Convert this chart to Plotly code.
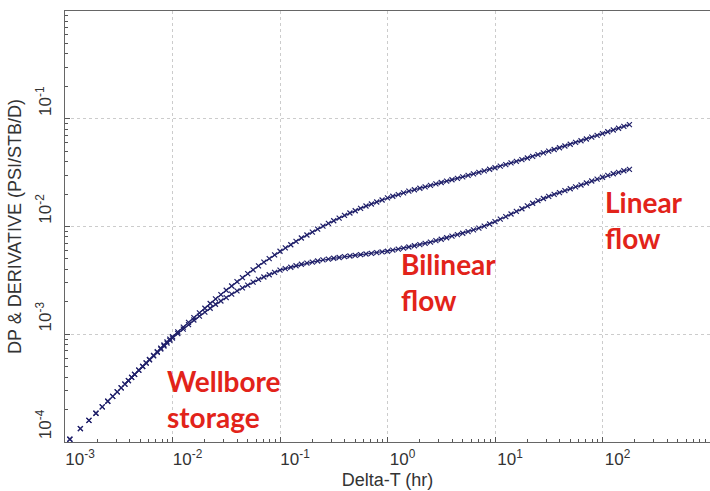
import math
import plotly.graph_objects as go

# Elapsed time since shut-in (hr)
delta_t = [
    0.00111, 0.00139, 0.00167, 0.00194, 0.00222, 0.0025, 0.00278, 0.00306,
    0.00333, 0.00361, 0.00389, 0.00417, 0.00444, 0.00486, 0.00528, 0.00569,
    0.00611, 0.00667, 0.00722, 0.00778, 0.00833, 0.00889, 0.00944,
    0.0100, 0.0112, 0.0126, 0.0141, 0.0158, 0.0178, 0.0200, 0.0224, 0.0251, 0.0282,
    0.0316, 0.0355, 0.0398, 0.0447, 0.0501, 0.0562, 0.0631, 0.0708, 0.0794, 0.0891,
    0.100, 0.112, 0.126, 0.141, 0.158, 0.178, 0.200, 0.224, 0.251, 0.282,
    0.316, 0.355, 0.398, 0.447, 0.501, 0.562, 0.631, 0.708, 0.794, 0.891,
    1.00, 1.12, 1.26, 1.41, 1.58, 1.78, 2.00, 2.24, 2.51, 2.82,
    3.16, 3.55, 3.98, 4.47, 5.01, 5.62, 6.31, 7.08, 7.94, 8.91,
    10.0, 11.2, 12.6, 14.1, 15.8, 17.8, 20.0, 22.4, 25.1, 28.2,
    31.6, 35.5, 39.8, 44.7, 50.1, 56.2, 63.1, 70.8, 79.4, 89.1,
    100.0, 112.0, 126.0, 141.0, 158.0, 178.0,
]

# Pressure change DP (psi/STB/D)
dp = [
    1.06e-4, 1.33e-4, 1.59e-4, 1.85e-4, 2.12e-4, 2.39e-4, 2.65e-4, 2.92e-4,
    3.18e-4, 3.45e-4, 3.71e-4, 3.98e-4, 4.24e-4, 4.64e-4, 5.04e-4, 5.43e-4,
    5.83e-4, 6.37e-4, 6.89e-4, 7.43e-4, 7.95e-4, 8.49e-4, 9.01e-4,
    9.51e-4, 1.052e-3, 1.164e-3, 1.291e-3, 1.429e-3, 1.578e-3, 1.742e-3, 1.928e-3, 2.128e-3, 2.333e-3,
    2.559e-3, 2.805e-3, 3.076e-3, 3.350e-3, 3.648e-3, 3.963e-3, 4.315e-3, 4.667e-3, 5.035e-3, 5.445e-3,
    5.888e-3, 6.324e-3, 6.776e-3, 7.278e-3, 7.816e-3, 8.337e-3, 8.872e-3, 9.462e-3, 1.009e-2, 1.069e-2,
    1.130e-2, 1.197e-2, 1.268e-2, 1.334e-2, 1.400e-2, 1.472e-2, 1.549e-2, 1.618e-2, 1.687e-2, 1.762e-2,
    1.841e-2, 1.910e-2, 1.977e-2, 2.051e-2, 2.128e-2, 2.193e-2, 2.265e-2, 2.333e-2, 2.410e-2, 2.483e-2,
    2.559e-2, 2.636e-2, 2.716e-2, 2.799e-2, 2.891e-2, 2.979e-2, 3.076e-2, 3.177e-2, 3.281e-2, 3.396e-2,
    3.508e-2, 3.631e-2, 3.758e-2, 3.890e-2, 4.027e-2, 4.169e-2, 4.325e-2, 4.477e-2, 4.645e-2, 4.819e-2,
    5.000e-2, 5.188e-2, 5.383e-2, 5.585e-2, 5.794e-2, 6.026e-2, 6.252e-2, 6.486e-2, 6.745e-2, 6.998e-2,
    7.278e-2, 7.568e-2, 7.870e-2, 8.166e-2, 8.492e-2, 8.831e-2,
]

# Pressure derivative (psi/STB/D)
derivative = [
    1.06e-4, 1.33e-4, 1.59e-4, 1.85e-4, 2.12e-4, 2.39e-4, 2.65e-4, 2.92e-4,
    3.18e-4, 3.45e-4, 3.71e-4, 3.98e-4, 4.24e-4, 4.64e-4, 5.02e-4, 5.39e-4,
    5.78e-4, 6.29e-4, 6.78e-4, 7.29e-4, 7.78e-4, 8.28e-4, 8.77e-4,
    9.226e-4, 1.016e-3, 1.117e-3, 1.230e-3, 1.355e-3, 1.472e-3, 1.603e-3, 1.742e-3, 1.897e-3, 2.037e-3,
    2.188e-3, 2.355e-3, 2.529e-3, 2.692e-3, 2.858e-3, 3.041e-3, 3.236e-3, 3.396e-3, 3.565e-3, 3.750e-3,
    3.936e-3, 4.064e-3, 4.188e-3, 4.325e-3, 4.467e-3, 4.571e-3, 4.677e-3, 4.786e-3, 4.898e-3, 4.977e-3,
    5.070e-3, 5.152e-3, 5.248e-3, 5.321e-3, 5.395e-3, 5.483e-3, 5.559e-3, 5.636e-3, 5.715e-3, 5.808e-3,
    5.888e-3, 6.026e-3, 6.166e-3, 6.310e-3, 6.457e-3, 6.622e-3, 6.792e-3, 6.982e-3, 7.161e-3, 7.396e-3,
    7.621e-3, 7.870e-3, 8.128e-3, 8.395e-3, 8.650e-3, 8.954e-3, 9.290e-3, 9.661e-3, 1.007e-2, 1.054e-2,
    1.109e-2, 1.169e-2, 1.236e-2, 1.306e-2, 1.380e-2, 1.462e-2, 1.556e-2, 1.644e-2, 1.738e-2, 1.820e-2,
    1.905e-2, 1.986e-2, 2.065e-2, 2.153e-2, 2.239e-2, 2.333e-2, 2.427e-2, 2.535e-2, 2.642e-2, 2.754e-2,
    2.864e-2, 2.979e-2, 3.090e-2, 3.184e-2, 3.289e-2, 3.388e-2,
]

# Decade tick positions and labels
x_ticks = [1e-3, 1e-2, 1e-1, 1e0, 1e1, 1e2]
x_tick_labels = ["10<sup>-3</sup>", "10<sup>-2</sup>", "10<sup>-1</sup>",
                 "10<sup>0</sup>", "10<sup>1</sup>", "10<sup>2</sup>"]
y_ticks = [1e-4, 1e-3, 1e-2, 1e-1]
y_tick_labels = ["10<sup>-4</sup>", "10<sup>-3</sup>", "10<sup>-2</sup>", "10<sup>-1</sup>"]

# Flow-regime labels: text, time (hr), value (psi/STB/D) of top-left corner
regime_text = ["Wellbore<br>storage", "Bilinear<br>flow", "Linear<br>flow"]
regime_t = [0.0085, 1.28, 102.0]
regime_y = [5.55e-4, 6.8e-3, 2.56e-2]

MARK = "#20206a"
RED = "#e2231a"
AXIS_FONT = "Liberation Sans, Arial, sans-serif"

fig = go.Figure()

dense_from = 9
for series in (dp, derivative):
    # thin connecting line where the sampling is dense
    fig.add_trace(go.Scatter(
        x=delta_t[dense_from:], y=series[dense_from:], mode="lines",
        line=dict(color=MARK, width=1.2), hoverinfo="skip", showlegend=False,
    ))
    fig.add_trace(go.Scatter(
        x=delta_t, y=series, mode="markers",
        marker=dict(symbol="x-thin", size=5, color=MARK,
                    line=dict(color=MARK, width=1.2)),
        showlegend=False,
    ))

for txt, tx, ty in zip(regime_text, regime_t, regime_y):
    fig.add_annotation(
        x=math.log10(tx), y=math.log10(ty),
        xref="x", yref="y", text=txt, showarrow=False,
        xanchor="left", yanchor="top", align="left",
        font=dict(family="Lato, Open Sans, sans-serif", size=28, color=RED, weight="bold"),
    )

minor_x = [m * 10.0 ** e for e in range(-3, 3) for m in range(2, 10)]
minor_y = [m * 10.0 ** e for e in range(-4, 0) for m in range(2, 10)]

fig.update_xaxes(
    type="log", range=[-3, 3],
    tickmode="array", tickvals=x_ticks, ticktext=x_tick_labels,
    ticks="inside", ticklen=5, tickcolor="#555555", tickwidth=1,
    ticklabelshift=15, ticklabelstandoff=2,
    tickfont=dict(family=AXIS_FONT, size=17, color="#333333"),
    showgrid=True, gridcolor="#cccccc", griddash="dot", gridwidth=1,
    showline=True, linecolor="#666666", linewidth=1, mirror=True,
    zeroline=False,
    minor=dict(tickmode="array", tickvals=minor_x, ticks="inside", ticklen=3,
               tickcolor="#555555", showgrid=False),
    title=dict(text="Delta-T (hr)", standoff=4,
               font=dict(family=AXIS_FONT, size=18, color="#333333")),
)
fig.update_yaxes(
    type="log", range=[-4, 0],
    tickmode="array", tickvals=y_ticks, ticktext=y_tick_labels,
    ticks="inside", ticklen=5, tickcolor="#555555", tickwidth=1,
    tickangle=-90, ticklabelshift=-15, ticklabelstandoff=6,
    tickfont=dict(family=AXIS_FONT, size=17, color="#333333"),
    showgrid=True, gridcolor="#cccccc", griddash="dot", gridwidth=1,
    showline=True, linecolor="#666666", linewidth=1, mirror=False,
    zeroline=False,
    minor=dict(tickmode="array", tickvals=minor_y, ticks="inside", ticklen=3,
               tickcolor="#555555", showgrid=False),
    title=dict(text="DP & DERIVATIVE (PSI/STB/D)", standoff=6,
               font=dict(family=AXIS_FONT, size=18, color="#333333")),
)

fig.update_layout(
    width=710, height=491,
    margin=dict(l=65, r=0, t=11, b=49),
    paper_bgcolor="white", plot_bgcolor="white",
    showlegend=False,
)

fig.write_html("out.html")
